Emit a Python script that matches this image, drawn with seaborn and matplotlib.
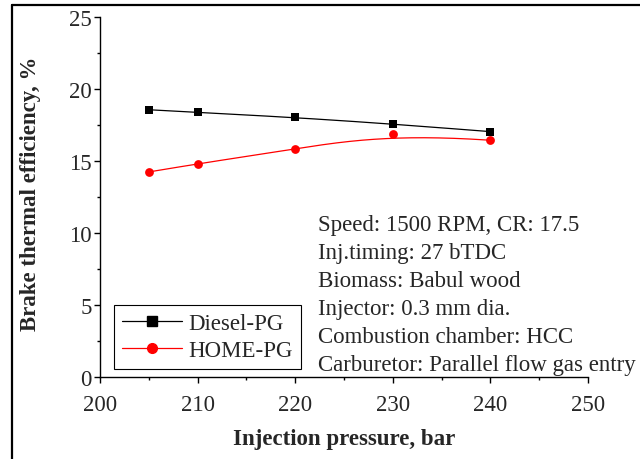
import numpy as np
import pandas as pd
import matplotlib
matplotlib.use("Agg")
import matplotlib.pyplot as plt
from matplotlib.lines import Line2D
import seaborn as sns

# ---- data ----
pressure = [205, 210, 220, 230, 240]
diesel_pg = [18.56, 18.38, 18.03, 17.57, 17.04]
home_pg = [14.24, 14.81, 15.83, 16.90, 16.44]
series_names = ["Diesel-PG", "HOME-PG"]
x_ticks = [200, 210, 220, 230, 240, 250]
y_ticks = [0, 5, 10, 15, 20, 25]
x_label = "Injection pressure, bar"
y_label = "Brake thermal efficiency, %"
notes = ["Speed: 1500 RPM, CR: 17.5",
         "Inj.timing: 27 bTDC",
         "Biomass: Babul wood",
         "Injector: 0.3 mm dia.",
         "Combustion chamber: HCC",
         "Carburetor: Parallel flow gas entry"]

sns.set_style("ticks")
plt.rcParams["font.family"] = ["Liberation Serif", "DejaVu Serif"]
plt.rcParams["mathtext.fontset"] = "stix"


def bspline(xs, ys, n=300, k=3):
    """Clamped cubic B-spline using the data points as control points."""
    P = np.column_stack([xs, ys]).astype(float)
    m = len(P)
    inner = np.linspace(0, 1, m - k + 1)
    knots = np.concatenate([[0] * k, inner, [1] * k])
    u = np.linspace(0, 1, n)
    u[-1] -= 1e-10

    def N(i, p, t):
        if p == 0:
            return np.where((knots[i] <= t) & (t < knots[i + 1]), 1.0, 0.0)
        a = 0.0
        d1 = knots[i + p] - knots[i]
        d2 = knots[i + p + 1] - knots[i + 1]
        if d1 > 0:
            a = a + (t - knots[i]) / d1 * N(i, p - 1, t)
        if d2 > 0:
            a = a + (knots[i + p + 1] - t) / d2 * N(i + 1, p - 1, t)
        return a

    B = np.array([N(i, k, u) for i in range(m)])
    C = B.T @ P
    return C[:, 0], C[:, 1]


fig = plt.figure(figsize=(6.4, 4.6), dpi=100)
ax = fig.add_axes([100 / 640, 1 - 378 / 460, 488 / 640, 360 / 460])

colors = ["black", "red"]
markers = ["s", "o"]
for name, vals, c, mk in zip(series_names, [diesel_pg, home_pg], colors, markers):
    sx, sy = bspline(pressure, vals)
    curve = pd.DataFrame({"x": sx, "y": sy})
    sns.lineplot(data=curve, x="x", y="y", ax=ax, color=c, lw=0.9,
                 sort=False, estimator=None)
    pts = pd.DataFrame({"x": pressure, "y": vals})
    sns.scatterplot(data=pts, x="x", y="y", ax=ax, color=c, marker=mk,
                    s=36 if mk == "s" else 40, edgecolor=c, linewidth=0, zorder=3)

ax.set_xlim(200, 250)
ax.set_ylim(0, 25)
ax.set_xticks(x_ticks)
ax.set_yticks(y_ticks)
ax.set_xticks([205, 215, 225, 235, 245], minor=True)
ax.set_yticks([2.5, 7.5, 12.5, 17.5, 22.5], minor=True)
ax.tick_params(axis="both", which="major", direction="out", length=4,
               width=1.0, labelsize=16.5, color="black")
ax.tick_params(axis="both", which="minor", direction="out", length=2,
               width=1.0, color="black")
ax.tick_params(axis="x", which="major", pad=8)
ax.tick_params(axis="y", which="major", pad=2)
for s in ["top", "right"]:
    ax.spines[s].set_visible(False)
for s in ["left", "bottom"]:
    ax.spines[s].set_linewidth(1.0)
    ax.spines[s].set_color("black")

ax.set_xlabel(x_label, fontsize=16.5, fontweight="bold")
ax.set_ylabel(y_label, fontsize=16.5, fontweight="bold")
ax.xaxis.set_label_coords(0.5, (378 - 440) / 360)
ax.xaxis.label.set_va("center")
ax.yaxis.set_label_coords((31 - 100) / 488, (378 - 194) / 360)
ax.yaxis.label.set_va("center")

handles = [Line2D([], [], color=c, marker=mk, lw=0.9, markersize=6.5 if mk == "s" else 7)
           for c, mk in zip(colors, markers)]
leg = ax.legend(handles, series_names, loc="lower left",
                bbox_to_anchor=(14 / 488, 8 / 360), borderaxespad=0,
                fontsize=16.5, handlelength=2.6, handletextpad=0.3,
                borderpad=0.35, labelspacing=0.25, fancybox=False,
                framealpha=1, edgecolor="black")
leg.get_frame().set_linewidth(0.8)

x0 = (318 - 100) / 488
for i, line in enumerate(notes):
    ypx = 226 + 27.8 * i
    ax.text(x0, (378 - ypx) / 360, line, transform=ax.transAxes,
            fontsize=16.5, va="center", ha="left", clip_on=False)

# outer frame (top and left edges of the picture)
fig.add_artist(Line2D([12 / 640, 1], [1 - 6 / 460, 1 - 6 / 460],
                      transform=fig.transFigure, color="black", lw=1.6))
fig.add_artist(Line2D([12 / 640, 12 / 640], [0, 1 - 6 / 460],
                      transform=fig.transFigure, color="black", lw=1.6))

fig.savefig("out.png", dpi=100)
